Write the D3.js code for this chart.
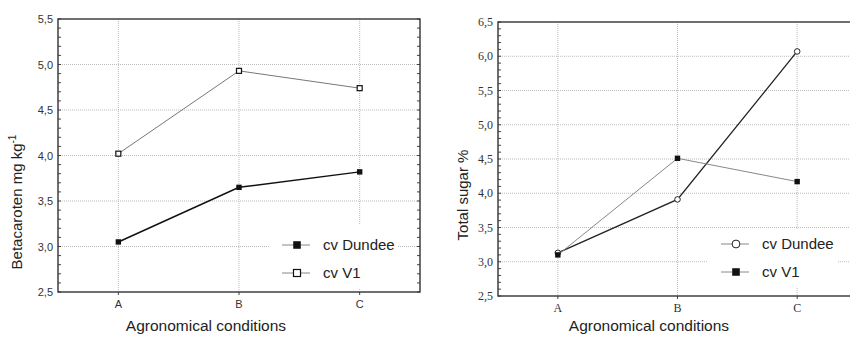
<!DOCTYPE html>
<meta charset="utf-8">
<style>
  body { margin: 0; background: #fff; }
  .grid line { stroke: #bbb; stroke-dasharray: 1,1; }
</style>
<svg width="850" height="337"></svg>
<script src="https://d3js.org/d3.v7.min.js"></script>
<script>

  var conditions = ["A", "B", "C"];

  // left chart: betacaroten
  var betaDundee = [3.05, 3.65, 3.82];
  var betaV1 = [4.02, 4.93, 4.74];
  var betaTicks = [2.5, 3.0, 3.5, 4.0, 4.5, 5.0, 5.5];

  // right chart: total sugar
  var sugarDundee = [3.13, 3.91, 6.07];
  var sugarV1 = [3.10, 4.51, 4.17];
  var sugarTicks = [2.5, 3.0, 3.5, 4.0, 4.5, 5.0, 5.5, 6.0, 6.5];

  var svg = d3.select("svg");
  var fmt = function (d) { return d.toFixed(1).replace(".", ","); };

  function panel(opt) {
    var g = svg.append("g");
    var x = d3.scalePoint().domain(conditions).range([opt.left, opt.right]).padding(0.5);
    var y = d3.scaleLinear().domain([opt.ticks[0], opt.ticks[opt.ticks.length - 1]]).range([opt.bottom, opt.top]);

    // grid
    var grid = g.append("g").attr("class", "grid");
    grid.selectAll(".h").data(opt.ticks.slice(1, -1)).enter().append("line")
      .attr("x1", opt.left).attr("x2", opt.right)
      .attr("y1", function (d) { return y(d); }).attr("y2", function (d) { return y(d); });
    grid.selectAll(".v").data(conditions).enter().append("line")
      .attr("x1", function (d) { return x(d); }).attr("x2", function (d) { return x(d); })
      .attr("y1", opt.top).attr("y2", opt.bottom);

    // minor ticks every 0.1
    var minor = d3.range(Math.round(opt.ticks[0] * 10), Math.round(opt.ticks[opt.ticks.length - 1] * 10) + 1).map(function (d) { return d / 10; });
    g.selectAll(".ml").data(minor).enter().append("line")
      .attr("x1", opt.left).attr("x2", opt.left + 3)
      .attr("y1", function (d) { return y(d); }).attr("y2", function (d) { return y(d); })
      .attr("stroke", "#444");
    g.selectAll(".mr").data(minor).enter().append("line")
      .attr("x1", opt.right).attr("x2", opt.right - 3)
      .attr("y1", function (d) { return y(d); }).attr("y2", function (d) { return y(d); })
      .attr("stroke", "#444");
    g.selectAll(".xt").data(conditions).enter().append("line")
      .attr("x1", function (d) { return x(d); }).attr("x2", function (d) { return x(d); })
      .attr("y1", opt.bottom).attr("y2", opt.bottom + 3)
      .attr("stroke", "#444");

    // legend background
    g.append("rect").attr("x", opt.legX).attr("y", opt.legY)
      .attr("width", opt.legW).attr("height", opt.legH).attr("fill", "#fff");

    // frame
    g.append("rect").attr("x", opt.left).attr("y", opt.top)
      .attr("width", opt.right - opt.left).attr("height", opt.bottom - opt.top)
      .attr("fill", "none").attr("stroke", "#333").attr("stroke-width", 1.4);

    // tick labels
    g.selectAll(".yl").data(opt.ticks).enter().append("text")
      .attr("x", opt.left - 5).attr("y", function (d) { return y(d) + 4; })
      .attr("text-anchor", "end").attr("font-family", opt.tickFont).attr("font-size", opt.tickSize)
      .attr("fill", "#333").text(fmt);
    g.selectAll(".xl").data(conditions).enter().append("text")
      .attr("x", function (d) { return x(d); }).attr("y", opt.bottom + 16)
      .attr("text-anchor", "middle").attr("font-family", opt.tickFont).attr("font-size", opt.tickSize)
      .attr("fill", "#333").text(function (d) { return d; });

    // series
    opt.series.forEach(function (s) {
      var line = d3.line().x(function (d, i) { return x(conditions[i]); }).y(function (d) { return y(d); });
      g.append("path").datum(s.values).attr("d", line)
        .attr("fill", "none").attr("stroke", s.color).attr("stroke-width", s.width);
      drawMarker(g, s, s.values.map(function (d, i) { return [x(conditions[i]), y(d)]; }));
    });

    // legend
    opt.series.forEach(function (s, i) {
      var ly = opt.legItemY + i * 28;
      g.append("line").attr("x1", opt.legLineX).attr("x2", opt.legLineX + 28)
        .attr("y1", ly).attr("y2", ly).attr("stroke", "#888").attr("stroke-width", 1);
      drawMarker(g, s, [[opt.legLineX + 15, ly]], true);
      g.append("text").attr("x", opt.legLineX + 41).attr("y", ly + 5)
        .attr("font-family", "Liberation Sans, Arial, sans-serif").attr("font-size", 15)
        .attr("fill", "#222").text(s.name);
    });

    // axis titles
    g.append("text").attr("x", opt.xTitleX).attr("y", 331)
      .attr("text-anchor", "middle").attr("font-family", "Liberation Sans, Arial, sans-serif")
      .attr("font-size", 15.5).attr("fill", "#222").text("Agronomical conditions");
    var yt = g.append("text")
      .attr("transform", "translate(" + opt.yTitleX + "," + opt.yTitleY + ") rotate(-90)")
      .attr("text-anchor", "middle").attr("font-family", "Liberation Sans, Arial, sans-serif")
      .attr("font-size", 15).attr("fill", "#222");
    yt.append("tspan").text(opt.yTitle);
    if (opt.yTitleSup) {
      yt.append("tspan").attr("font-size", 10).attr("dy", -6).text(opt.yTitleSup);
    }
  }

  function drawMarker(g, s, pts, big) {
    var k = big ? 1.4 : 1;
    pts.forEach(function (p) {
      if (s.shape === "circle") {
        g.append("circle").attr("cx", p[0]).attr("cy", p[1]).attr("r", 2.8 * k)
          .attr("fill", s.filled ? "#111" : "#fff").attr("stroke", "#222").attr("stroke-width", 1);
      } else {
        var h = (s.filled ? 2.7 : 2.5) * k;
        g.append("rect").attr("x", p[0] - h).attr("y", p[1] - h).attr("width", 2 * h).attr("height", 2 * h)
          .attr("fill", s.filled ? "#111" : "#fff").attr("stroke", "#111").attr("stroke-width", s.filled ? 0 : 1.2);
      }
    });
  }

  panel({
    left: 58, right: 420, top: 19, bottom: 292,
    ticks: betaTicks, tickFont: "Liberation Sans, Arial, sans-serif", tickSize: 11,
    legX: 270, legY: 224, legW: 127, legH: 64,
    legLineX: 282, legItemY: 245,
    xTitleX: 206, yTitleX: 22, yTitleY: 202,
    yTitle: "Betacaroten mg kg", yTitleSup: "-1",
    series: [
      { name: "cv Dundee", values: betaDundee, color: "#111", width: 1.5, shape: "square", filled: true },
      { name: "cv V1", values: betaV1, color: "#777", width: 1, shape: "square", filled: false }
    ]
  });

  panel({
    left: 498, right: 857, top: 22, bottom: 296,
    ticks: sugarTicks, tickFont: "Liberation Serif, Times New Roman, serif", tickSize: 12,
    legX: 707, legY: 230, legW: 131, legH: 58,
    legLineX: 721, legItemY: 244,
    xTitleX: 649, yTitleX: 468, yTitleY: 195,
    yTitle: "Total sugar %",
    series: [
      { name: "cv Dundee", values: sugarDundee, color: "#222", width: 1.3, shape: "circle", filled: false },
      { name: "cv V1", values: sugarV1, color: "#888", width: 1, shape: "square", filled: true }
    ]
  });

</script>
